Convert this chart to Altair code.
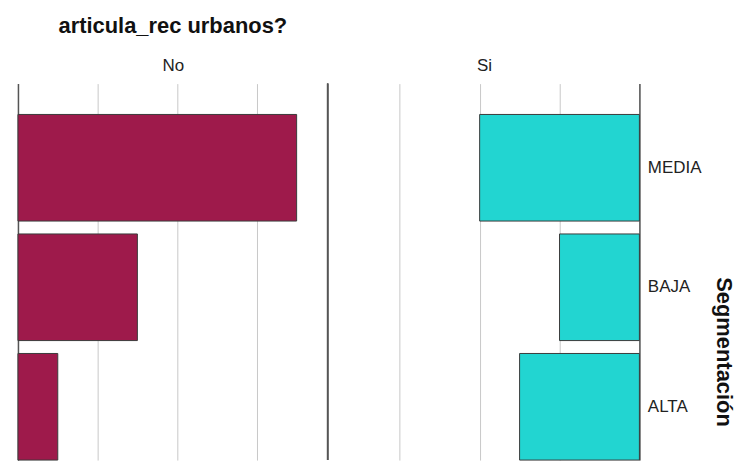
import altair as alt
import pandas as pd

# ---- data ----
categories = ["MEDIA", "BAJA", "ALTA"]
no_values = [7, 3, 1]
si_values = [4, 2, 3]
panel_no = "No"
panel_si = "Si"
chart_title = "articula_rec urbanos?"
y_title = "Segmentación"

df_no = pd.DataFrame({"seg": categories, "count": no_values})
df_si = pd.DataFrame({"seg": categories, "count": si_values})

FONT = "Liberation Sans"
H = 378
XMAX = 7.78
GRID_VALUES = [0, 2, 4, 6]
DARK = "#555555"


def yscale():
    return alt.Scale(domain=categories, paddingInner=0.108, paddingOuter=0.129, align=1)


def xaxis(title):
    return alt.Axis(orient="top", values=GRID_VALUES, grid=True, gridColor="#c8c8c8",
                    gridWidth=1, labels=False, ticks=False, domain=False, title=title,
                    titleFont=FONT, titleFontSize=17, titleFontWeight="normal",
                    titleColor="#222222", titlePadding=9)


def ptitle(text):
    return alt.TitleParams(text, font=FONT, fontSize=22, fontWeight="bold",
                           color="#111111", anchor="middle", offset=19)


left_bars = alt.Chart(df_no).mark_bar(color="#9E1A4B", stroke="#3a3a3a", strokeWidth=1).encode(
    x=alt.X("count:Q", scale=alt.Scale(domain=[0, XMAX], nice=False, zero=True), axis=xaxis(panel_no)),
    y=alt.Y("seg:N", sort=categories, scale=yscale(),
            axis=alt.Axis(orient="left", labels=False, ticks=False, title=None,
                          domainColor=DARK, domainWidth=1.5)),
)
left_mid = alt.Chart(df_no).mark_rule(color=DARK, strokeWidth=1.5).encode(x=alt.value(311))
left = alt.layer(left_bars, left_mid).properties(width=311, height=H, title=ptitle(chart_title))

right_bars = alt.Chart(df_si).mark_bar(color="#22D5D1", stroke="#3a3a3a", strokeWidth=1).encode(
    x=alt.X("count:Q", scale=alt.Scale(domain=[0, XMAX], nice=False, zero=True, reverse=True),
            axis=xaxis(panel_si)),
    y=alt.Y("seg:N", sort=categories, scale=yscale(),
            axis=alt.Axis(orient="right", ticks=False, labelFont=FONT, labelFontSize=17,
                          labelColor="#222222", labelPadding=8, domainColor=DARK, domainWidth=1.5,
                          title=y_title, titleFont=FONT, titleFontSize=22, titleFontWeight="bold",
                          titleColor="#111111", titleAngle=90, titleAlign="center",
                          titleBaseline="alphabetic", titleX=77, titleY=269)),
)
right = right_bars.properties(width=312, height=H, title=ptitle(" "))

chart = alt.hconcat(left, right, spacing=0).properties(
    padding={"left": 9, "top": 6, "right": 3, "bottom": 0}
).configure_view(strokeWidth=0)

chart.save("out.html", embed_options={"renderer": "svg", "actions": False})
